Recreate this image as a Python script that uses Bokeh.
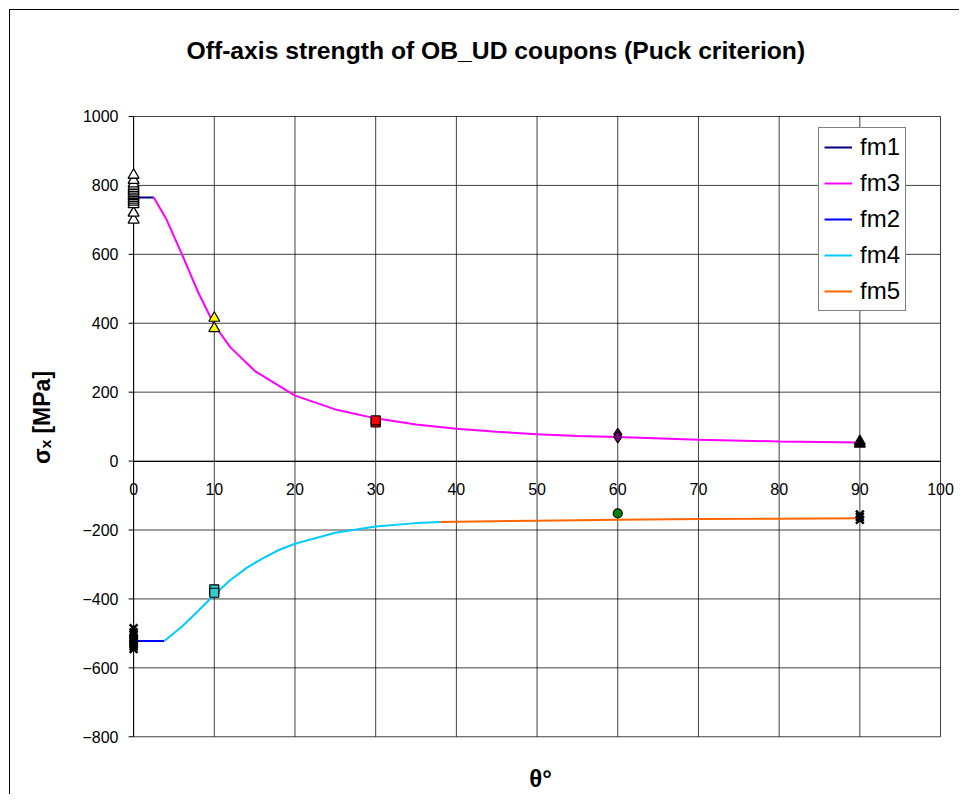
import math
from bokeh.plotting import figure
from bokeh.models import (Range1d, FixedTicker, Legend, LegendItem, Title, LinearAxis)
from bokeh.embed import file_html
from bokeh.resources import INLINE

# ---- data ----
x_ticks = [0, 10, 20, 30, 40, 50, 60, 70, 80, 90, 100]
y_ticks = [-800, -600, -400, -200, 0, 200, 400, 600, 800, 1000]

fm1_x = [0, 2.5]
fm1_y = [765, 765]
fm3_x = [2.5, 4, 6, 8, 10, 12, 15, 20, 25, 30, 35, 40, 45, 50, 55, 60, 70, 80, 90]
fm3_y = [765, 705, 600, 490, 395, 330, 262, 190, 150, 124, 106, 94, 85, 78, 73, 70, 62, 57, 54]
fm2_x = [0, 3.8]
fm2_y = [-522, -522]
fm4_x = [3.8, 6, 8, 10, 12, 14, 16, 18, 20, 25, 30, 35, 38]
fm4_y = [-522, -480, -435, -388, -345, -310, -282, -258, -240, -208, -190, -180, -177]
fm5_x = [38, 50, 60, 70, 80, 90]
fm5_y = [-177, -173, -170, -168, -167, -166]

ud0_t_y = [700, 720, 745, 752, 758, 763, 768, 772, 777, 782, 787, 792, 798, 805, 815, 830]
ud0_t_x = [0] * len(ud0_t_y)
ud0_c_y = [-485, -497, -505, -512, -518, -523, -528, -533, -538, -545]
ud0_c_x = [0] * len(ud0_c_y)
ud10_t_x = [10, 10]
ud10_t_y = [415, 385]
ud10_c_x = [10, 10]
ud10_c_y = [-372, -382]
ud30_x = [30, 30]
ud30_y = [112, 118]
ud60_t_x = [60, 60]
ud60_t_y = [78, 70]
ud60_c_x = [60]
ud60_c_y = [-152]
ud90_t_x = [90, 90]
ud90_t_y = [50, 57]
ud90_c_x = [90, 90, 90]
ud90_c_y = [-155, -162, -170]

title_text = "Off-axis strength of OB_UD coupons (Puck criterion)"
FONT = "Liberation Sans"

p = figure(width=959, height=794, output_backend="svg", toolbar_location=None,
           x_range=Range1d(-1.5, 102.35), y_range=Range1d(-805, 1058),
           min_border_left=121, min_border_right=0, min_border_top=96,
           min_border_bottom=54)
p.background_fill_color = "white"
p.border_fill_color = None
p.outline_line_color = None
p.xgrid.visible = False
p.ygrid.visible = False
# chart-area border (left and top edges visible in the reference)
p.styles = {
    "background-color": "white",
    "background-image": "linear-gradient(black, black), linear-gradient(black, black)",
    "background-size": "100% 1px, 1px 100%",
    "background-position": "9px 9px, 9px 9px",
    "background-repeat": "no-repeat",
}

p.title.text = title_text
p.title.text_font = FONT
p.title.text_font_size = "24.7px"
p.title.text_font_style = "bold"
p.title.text_color = "black"
p.title.align = "left"
p.title.offset = 65
if "standoff" in p.title.properties():
    p.title.standoff = 66
else:
    p.add_layout(Title(text=" ", text_font_size="60px"), "above")

# grid drawn from the tick arrays, limited to the plotting area
gx0 = [x_ticks[0]] * len(y_ticks)
gx1 = [x_ticks[-1]] * len(y_ticks)
p.segment(x0=gx0, y0=y_ticks, x1=gx1, y1=y_ticks, line_color="black",
          line_alpha=0.75, line_width=1)
gy0 = [y_ticks[0]] * len(x_ticks)
gy1 = [y_ticks[-1]] * len(x_ticks)
p.segment(x0=x_ticks, y0=gy0, x1=x_ticks, y1=gy1, line_color="black",
          line_alpha=0.75, line_width=1)
# value axis line at x = 0 and its outward tick marks
p.segment(x0=[x_ticks[0]], y0=[y_ticks[0]], x1=[x_ticks[0]], y1=[y_ticks[-1]],
          line_color="black", line_width=1)
p.ray(x=[x_ticks[0]] * len(y_ticks), y=y_ticks, length=5, length_units="screen",
      angle=math.pi, line_color="black", line_width=1)

# y axis: labels only (line drawn above at x = 0)
yax = p.yaxis[0]
yax.ticker = FixedTicker(ticks=y_ticks)
yax.axis_line_color = None
yax.major_tick_line_color = None
yax.major_tick_out = 0
yax.major_tick_in = 0
yax.minor_tick_line_color = None
yax.major_label_standoff = 3
yax.major_label_text_font = FONT
yax.major_label_text_font_size = "16px"
yax.major_label_text_color = "black"
yax.axis_label = "σₓ [MPa]"
yax.axis_label_text_font = FONT
yax.axis_label_text_font_size = "23px"
yax.axis_label_text_font_style = "bold"
yax.axis_label_text_color = "black"
yax.axis_label_standoff = 24

# x axis on the zero line
xax = p.xaxis[0]
xax.fixed_location = 0
xax.bounds = (x_ticks[0], x_ticks[-1])
xax.ticker = FixedTicker(ticks=x_ticks)
xax.axis_line_color = "black"
xax.major_tick_out = 0
xax.major_tick_in = 0
xax.minor_tick_line_color = None
xax.major_label_standoff = 22
xax.major_label_text_font = FONT
xax.major_label_text_font_size = "16px"
xax.major_label_text_color = "black"
xax.axis_label = None

# bottom axis only for the title
bax = LinearAxis(ticker=FixedTicker(ticks=x_ticks), axis_label="θ°")
bax.axis_line_color = None
bax.major_tick_line_color = None
bax.minor_tick_line_color = None
bax.major_label_text_color = None
bax.major_label_text_font_size = "16px"
bax.axis_label_text_font = FONT
bax.axis_label_text_font_size = "24px"
bax.axis_label_text_font_style = "bold"
bax.axis_label_text_color = "black"
bax.axis_label_standoff = 20
p.add_layout(bax, "below")

# curves
r1 = p.line(fm1_x, fm1_y, line_color="#000080", line_width=2)
r3 = p.line(fm3_x, fm3_y, line_color="#FF00FF", line_width=2)
r2 = p.line(fm2_x, fm2_y, line_color="#0000FF", line_width=2)
r4 = p.line(fm4_x, fm4_y, line_color="#00CCFF", line_width=2)
r5 = p.line(fm5_x, fm5_y, line_color="#FF6600", line_width=2)

# test points
p.scatter(ud0_t_x, ud0_t_y, marker="triangle", size=11, fill_color="white",
          line_color="black", line_width=1.3)
p.scatter(ud0_c_x, ud0_c_y, marker="x", size=11, line_color="black", line_width=2.5)
p.scatter(ud10_t_x, ud10_t_y, marker="triangle", size=11, fill_color="#FFFF00",
          line_color="black", line_width=1.2)
p.scatter(ud10_c_x, ud10_c_y, marker="square", size=9, fill_color="#33CCCC",
          line_color="black", line_width=1.2)
p.scatter(ud30_x, ud30_y, marker="square", size=9, fill_color="#FF0000",
          line_color="black", line_width=1.2)
p.scatter(ud60_t_x, ud60_t_y, marker="diamond", size=12, fill_color="#800080",
          line_color="black", line_width=1.2)
p.scatter(ud60_c_x, ud60_c_y, marker="circle", size=9, fill_color="#008000",
          line_color="black", line_width=1.2)
p.scatter(ud90_t_x, ud90_t_y, marker="triangle", size=11, fill_color="black",
          line_color="black", line_width=1.2)
p.scatter(ud90_c_x, ud90_c_y, marker="x", size=11, line_color="black", line_width=2.5)

legend = Legend(items=[LegendItem(label="fm1", renderers=[r1]),
                       LegendItem(label="fm3", renderers=[r3]),
                       LegendItem(label="fm2", renderers=[r2]),
                       LegendItem(label="fm4", renderers=[r4]),
                       LegendItem(label="fm5", renderers=[r5])],
                location=(697, 427))
legend.label_text_font = FONT
legend.label_text_font_size = "24px"
legend.label_text_color = "black"
legend.glyph_width = 28
legend.glyph_height = 24
legend.label_height = 24
legend.label_standoff = 8
legend.spacing = 8
legend.padding = 5
legend.margin = 0
legend.border_line_color = "black"
legend.border_line_width = 1
legend.background_fill_alpha = 1
p.add_layout(legend, "center")

open("out.html", "w").write(file_html(p, INLINE))
